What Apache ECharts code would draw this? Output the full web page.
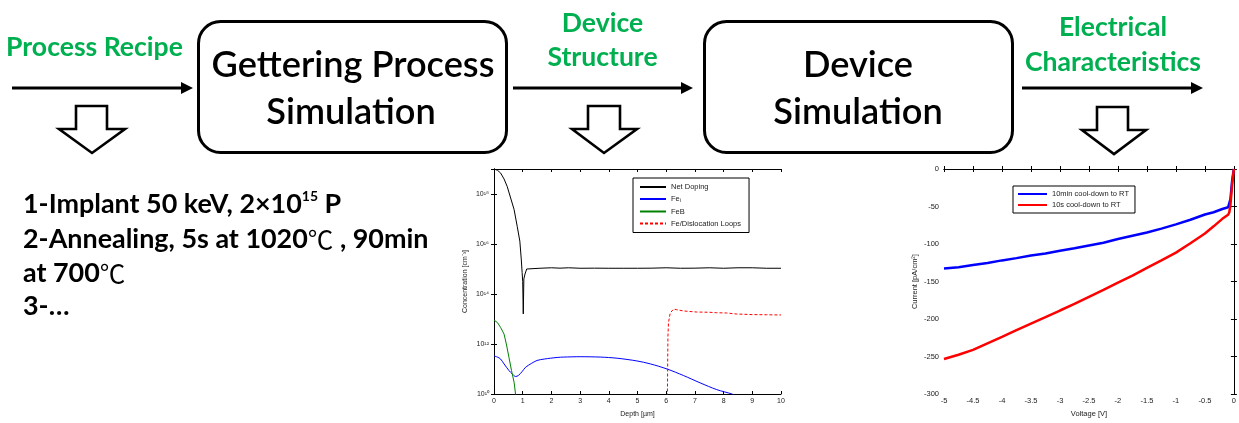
<!DOCTYPE html>
<html><head><meta charset="utf-8">
<script src="https://cdn.jsdelivr.net/npm/echarts/dist/echarts.min.js"></script>
<style>html,body{margin:0;padding:0;background:#fff}#c{width:1239px;height:423px}</style>
</head><body><div id="c"></div>
<script>
// ---------- data: concentration profile (left chart) ----------
const depthNet = [0,0.12,0.23,0.35,0.46,0.58,0.70,0.81,0.90,0.95,0.98,1.00,1.02,1.04,1.08,1.14,1.2,1.6,2.0,2.3,2.6,3.0,3.5,4.0,4.5,5.0,5.5,6.0,6.5,7.0,7.5,8.0,8.5,9.0,9.5,10];
const concNet  = [1.0e19,8.9e18,6.9e18,4.0e18,2.0e18,6.9e17,2.4e17,5.0e16,1.3e16,2.5e15,7.2e14,3.2e14,1.6e13,4.0e14,6.3e14,1.0e15,1.07e15,1.07e15,1.12e15,1.08e15,1.12e15,1.07e15,1.08e15,1.07e15,1.07e15,1.07e15,1.08e15,1.12e15,1.07e15,1.08e15,1.12e15,1.07e15,1.12e15,1.12e15,1.07e15,1.07e15];
const depthFei = [0,0.12,0.23,0.35,0.52,0.64,0.75,0.85,0.98,1.1,1.3,1.5,1.75,1.97,2.2,2.43,3.0,3.7,4.29,4.98,5.45,6.03,6.6,7.18,7.76,8.29,8.4];
const concFei  = [3.3e11,3.0e11,2.5e11,1.6e11,8.7e10,6.3e10,5.0e10,5.5e10,7.9e10,1.17e11,1.66e11,2.2e11,2.5e11,2.7e11,2.9e11,3.0e11,3.1e11,3.0e11,2.7e11,2.1e11,1.6e11,1.0e11,5.5e10,2.8e10,1.5e10,1.0e10,8.5e9];
const depthFeB = [0,0.12,0.23,0.35,0.43,0.52,0.61,0.70,0.75,0.78];
const concFeB  = [9.1e12,7.2e12,4.6e12,2.5e12,1.0e12,2.95e11,8.7e10,2.95e10,1.0e10,6e9];
const depthLoop = [6.04,6.06,6.08,6.14,6.26,6.37,6.6,7.06,7.5,7.76,8.1,8.46,9.0,9.5,10];
const concLoop  = [5e9,2.0e12,7.2e12,1.74e13,2.5e13,2.35e13,2.1e13,1.9e13,1.86e13,1.78e13,1.74e13,1.58e13,1.5e13,1.48e13,1.45e13];
const profileNames = ['Net Doping','Fe_i','FeB','Fe/Dislocation Loops'];
const concTickLabels = {10:'10\u00B9\u2070',12:'10\u00B9\u00B2',14:'10\u00B9\u2074',16:'10\u00B9\u2076',18:'10\u00B9\u2078'};

// ---------- data: I-V (right chart) ----------
const voltage      = [-5,-4.75,-4.5,-4.25,-4,-3.75,-3.5,-3.25,-3,-2.75,-2.5,-2.25,-2,-1.75,-1.5,-1.25,-1,-0.75,-0.5,-0.35,-0.2,-0.1,-0.08,-0.06,-0.03,0];
const current10min = [-132.7,-131,-128,-125.3,-121.8,-118.8,-115.3,-112.7,-109,-105.7,-102,-98.3,-93.4,-89,-84.7,-79.5,-73.8,-67.7,-60.7,-57.6,-53.3,-51,-49,-40,-15,0];
const current10s   = [-253.3,-247.6,-241,-232.3,-223.6,-214.8,-206,-197.4,-188.6,-179.9,-170.3,-161,-151.5,-142,-131.9,-121.8,-111.4,-99,-86,-76.4,-66.4,-61,-58,-48,-20,0];
const ivNames = ['10min cool-down to RT','10s cool-down to RT'];

// ---------- text ----------
const flowLabels = ['Process Recipe','Device','Structure','Electrical','Characteristics'];
const boxLabels = [['Gettering Process','Simulation'],['Device','Simulation']];
const recipeLines = ['1-Implant 50 keV, 2\u00D710','2-Annealing, 5s at 1020\u2103 , 90min','at 700\u2103','3-\u2026'];
const DEG = '\u2103';

const FONT = 'Lato';
const GREEN = '#00B050';
const cv = document.createElement('canvas').getContext('2d');
function fit(text, weight, target){ cv.font = weight+' 100px '+FONT; return 100*target/cv.measureText(text).width; }
const gsz = fit('Characteristics','bold',176);
const bsz = fit('Gettering Process','600',283);
const rsz = fit(recipeLines[1].split(DEG).join(''),'bold',380);

function zip(a,b){ return a.map((v,i)=>[v,b[i]]); }
const CF = 'Liberation Sans';
const small = {fontFamily:CF,fontSize:7,color:'#222'};

function arrow(x1,x2,y){
  return [
    {type:'line',shape:{x1:x1,y1:y,x2:x2-8,y2:y},style:{stroke:'#000',lineWidth:3}},
    {type:'polygon',shape:{points:[[x2-12,y-6],[x2,y],[x2-12,y+6]]},style:{fill:'#000'}}
  ];
}
function hollow(sl,sr,top,hl,hr,htop,tipx,tipy){
  return {type:'polygon',shape:{points:[[sl,top],[sr,top],[sr,htop],[hr,htop],[tipx,tipy],[hl,htop],[sl,htop]]},
          style:{fill:'#fff',stroke:'#000',lineWidth:2.6,lineJoin:'miter'}};
}
function txt(t,x,y,size,weight,color,align){
  return {type:'text',x:x,y:y,style:{text:t,fontFamily:FONT,fontSize:size,fontWeight:weight,fill:color,align:align||'center',verticalAlign:'middle'}};
}
const recipeRich = {
  n:{fontFamily:FONT,fontSize:rsz,fontWeight:'bold',fill:'#000',lineHeight:rsz*1.2},
  s:{fontFamily:FONT,fontSize:rsz*0.52,fontWeight:'bold',fill:'#000',verticalAlign:'top',lineHeight:rsz*1.2,padding:[2,0,0,0]},
  c:{fontFamily:'Noto Sans CJK SC',fontSize:rsz*0.95,fontWeight:'normal',fill:'#000',lineHeight:rsz*1.2}
};
function recipeText(line, y, extra){
  const parts = line.split(DEG).map(p=>p?'{n|'+p+'}':'');
  return {type:'text',x:23,y:y,style:{text:parts.join('{c|'+DEG+'}')+(extra||''),fill:'#000',verticalAlign:'middle',rich:recipeRich}};
}

const graphics = [].concat(
  arrow(12,193,88), arrow(513,693,88), arrow(1022,1203,88),
  [
    {type:'rect',shape:{x:198.5,y:21.5,width:308,height:131,r:22},style:{fill:'#fff',stroke:'#000',lineWidth:3}},
    {type:'rect',shape:{x:704.5,y:21.5,width:308,height:131,r:22},style:{fill:'#fff',stroke:'#000',lineWidth:3}},
    hollow(76,107,106,59,125,129,92,153),
    hollow(588,620,106,572,637,129,604,153),
    hollow(1097,1128,107,1082,1146,130,1114,154),
    txt(flowLabels[0],94.5,47,gsz,'bold',GREEN),
    txt(flowLabels[1],602.5,23,gsz,'bold',GREEN),
    txt(flowLabels[2],602.5,57,gsz,'bold',GREEN),
    txt(flowLabels[3],1113,27,gsz,'bold',GREEN),
    txt(flowLabels[4],1113,62,gsz,'bold',GREEN),
    txt(boxLabels[0][0],353,65,bsz,'600','#000'),
    txt(boxLabels[0][1],351,112,bsz,'600','#000'),
    txt(boxLabels[1][0],858,65,bsz,'600','#000'),
    txt(boxLabels[1][1],858,112,bsz,'600','#000'),
    recipeText(recipeLines[0],204,'{s|15}{n| P}'),
    recipeText(recipeLines[1],239),
    recipeText(recipeLines[2],273),
    recipeText(recipeLines[3],306)
  ]
);

const expOf = v => Math.round(Math.log10(v));
const axisLineBlack = {show:true,lineStyle:{color:'#000',width:1}};
const tickIn = {show:true,inside:true,length:3,lineStyle:{color:'#000'}};

const option = {
  animation:false,
  backgroundColor:'#fff',
  graphic:graphics,
  grid:[
    {left:494,top:169,width:287,height:226,show:false},
    {left:944,top:169,width:292,height:229,show:false}
  ],
  legend:[
    {data:profileNames,orient:'vertical',left:633,top:178,itemWidth:26,itemHeight:9,itemGap:4,
     padding:[5,8,5,6],borderColor:'#000',borderWidth:1,backgroundColor:'#fff',borderRadius:0,
     itemStyle:{opacity:0},
     formatter:n=>n==='Fe_i'?'Fe{sub|i}':n,
     textStyle:{fontFamily:CF,fontSize:7.5,color:'#222',rich:{sub:{fontFamily:CF,fontSize:5,color:'#222',verticalAlign:'bottom',padding:[4,0,0,0]}}}},
    {data:ivNames,orient:'vertical',left:1013,top:186,itemWidth:29,itemHeight:8,itemGap:3,
     padding:[4,6,4,4],borderColor:'#000',borderWidth:1,backgroundColor:'#fff',borderRadius:0,
     itemStyle:{opacity:0},
     textStyle:{fontFamily:CF,fontSize:7.5,color:'#222'}}
  ],
  xAxis:[
    {gridIndex:0,type:'value',min:0,max:10,interval:1,position:'bottom',
     name:'Depth [\u00B5m]',nameLocation:'middle',nameGap:17,nameTextStyle:small,
     axisLine:axisLineBlack,axisTick:tickIn,axisLabel:Object.assign({margin:4},small),splitLine:{show:false}},
    {gridIndex:0,type:'value',min:0,max:10,interval:1,position:'top',
     axisLine:axisLineBlack,axisTick:tickIn,axisLabel:{show:false},splitLine:{show:false}},
    {gridIndex:1,type:'value',min:-5,max:0,interval:0.5,position:'bottom',
     name:'Voltage [V]',nameLocation:'middle',nameGap:15,nameTextStyle:Object.assign({},small,{fontSize:7.5}),
     axisLine:axisLineBlack,axisTick:tickIn,axisLabel:Object.assign({margin:3},small,{fontSize:7.5}),splitLine:{show:false}},
    {gridIndex:1,type:'value',min:-5,max:0,interval:0.5,position:'top',
     axisLine:axisLineBlack,axisTick:tickIn,axisLabel:{show:false},splitLine:{show:false}}
  ],
  yAxis:[
    {gridIndex:0,type:'log',logBase:10,min:1e10,max:1e19,interval:2,position:'left',
     name:'Concentration [cm\u207B\u00B3]',nameLocation:'middle',nameRotate:90,nameGap:25,nameTextStyle:small,
     axisLine:axisLineBlack,axisTick:tickIn,splitLine:{show:false},
     axisLabel:Object.assign({margin:5,showMaxLabel:false,formatter:v=>concTickLabels[expOf(v)]||''},small)},
    {gridIndex:0,type:'log',logBase:10,min:1e10,max:1e19,interval:2,position:'right',
     axisLine:axisLineBlack,axisTick:tickIn,axisLabel:{show:false},splitLine:{show:false}},
    {gridIndex:1,type:'value',min:-300,max:0,interval:50,position:'left',
     name:'Current [pA/cm\u00B2]',nameLocation:'middle',nameRotate:90,nameGap:25,nameTextStyle:Object.assign({},small,{fontSize:7.5}),
     axisLine:axisLineBlack,axisTick:tickIn,splitLine:{show:false},
     axisLabel:Object.assign({margin:5},small,{fontSize:7.5})},
    {gridIndex:1,type:'value',min:-300,max:0,interval:50,position:'right',
     axisLine:axisLineBlack,axisTick:tickIn,axisLabel:{show:false},splitLine:{show:false}}
  ],
  series:[
    {name:profileNames[0],type:'line',xAxisIndex:0,yAxisIndex:0,data:zip(depthNet,concNet),showSymbol:false,symbol:'none',
     lineStyle:{color:'#000',width:1},itemStyle:{color:'#000'}},
    {name:profileNames[1],type:'line',xAxisIndex:0,yAxisIndex:0,data:zip(depthFei,concFei),showSymbol:false,symbol:'none',smooth:0.3,
     lineStyle:{color:'#0000ff',width:1},itemStyle:{color:'#0000ff'}},
    {name:profileNames[2],type:'line',xAxisIndex:0,yAxisIndex:0,data:zip(depthFeB,concFeB),showSymbol:false,symbol:'none',
     lineStyle:{color:'#008000',width:1},itemStyle:{color:'#008000'}},
    {name:profileNames[3],type:'line',xAxisIndex:0,yAxisIndex:0,data:zip(depthLoop,concLoop),showSymbol:false,symbol:'none',
     lineStyle:{color:'#ff0000',width:1,type:[3,2]},itemStyle:{color:'#ff0000'}},
    {name:ivNames[0],type:'line',xAxisIndex:2,yAxisIndex:2,data:zip(voltage,current10min),showSymbol:false,symbol:'none',
     lineStyle:{color:'#0000ff',width:2.5},itemStyle:{color:'#0000ff'}},
    {name:ivNames[1],type:'line',xAxisIndex:2,yAxisIndex:2,data:zip(voltage,current10s),showSymbol:false,symbol:'none',
     lineStyle:{color:'#ff0000',width:2.5},itemStyle:{color:'#ff0000'}}
  ]
};
const chart = echarts.init(document.getElementById('c'),null,{renderer:'canvas'});
chart.setOption(option);
</script></body></html>
